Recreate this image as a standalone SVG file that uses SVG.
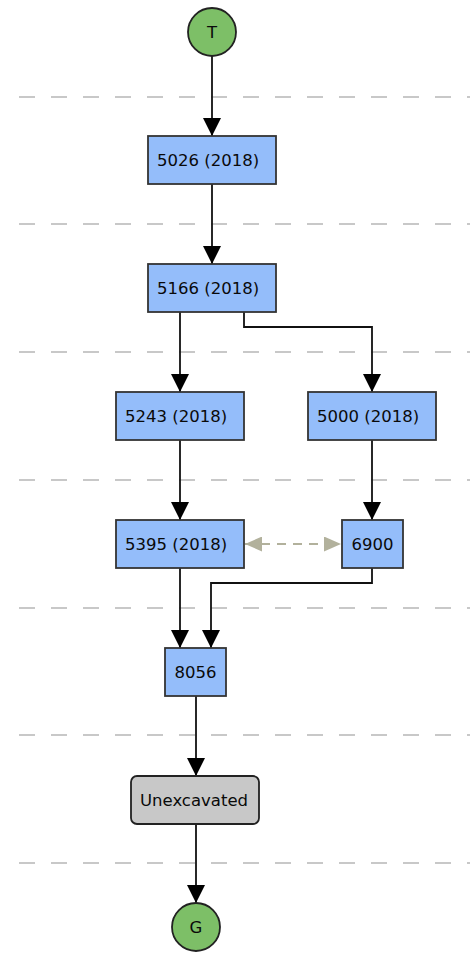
<svg xmlns="http://www.w3.org/2000/svg" width="470" height="969" viewBox="0 0 470 969">
<style>
.sep{stroke:#c8c8c8;stroke-width:2;stroke-dasharray:16,16;fill:none}
.box{fill:#94bdfa;stroke:#333;stroke-width:1.8}
.grey{fill:#c8c8c8;stroke:#222;stroke-width:1.8}
.term{fill:#7dbf67;stroke:#222;stroke-width:1.8}
.lbl{font-family:"DejaVu Sans",Verdana,sans-serif;font-size:16.5px;fill:#0a0a0a}
.edge{stroke:#111;stroke-width:1.8;fill:none;marker-end:url(#ah)}
.rel{stroke:#b2b19c;stroke-width:2;stroke-dasharray:9,7;fill:none;marker-start:url(#gs);marker-end:url(#ge)}
</style>
<defs>
<marker id="ah" markerWidth="18" markerHeight="18" refX="18" refY="9" orient="auto" markerUnits="userSpaceOnUse"><path d="M0,0 L18,9 L0,18 Z" fill="#000"/></marker>
<marker id="ge" markerWidth="18" markerHeight="16" refX="17" refY="7.5" orient="auto" markerUnits="userSpaceOnUse"><path d="M0,0 L17,7.5 L0,15 Z" fill="#b2b19c"/></marker>
<marker id="gs" markerWidth="18" markerHeight="16" refX="0" refY="7.5" orient="auto" markerUnits="userSpaceOnUse"><path d="M17,0 L0,7.5 L17,15 Z" fill="#b2b19c"/></marker>
</defs>
<g id="separators">
<line class="sep" x1="19" y1="97" x2="470" y2="97"/>
<line class="sep" x1="19" y1="224" x2="470" y2="224"/>
<line class="sep" x1="19" y1="352" x2="470" y2="352"/>
<line class="sep" x1="19" y1="480" x2="470" y2="480"/>
<line class="sep" x1="19" y1="608" x2="470" y2="608"/>
<line class="sep" x1="19" y1="735" x2="470" y2="735"/>
<line class="sep" x1="19" y1="863" x2="470" y2="863"/>
</g>
<g id="connectors">
<path class="edge" d="M212,56 V136"/>
<path class="edge" d="M212,184 V264"/>
<path class="edge" d="M180,312 V392"/>
<path class="edge" d="M244,312 V327 H372 V392"/>
<path class="edge" d="M180,440 V520"/>
<path class="edge" d="M372,440 V520"/>
<path class="edge" d="M180,568 V648"/>
<path class="edge" d="M372,568 V583 H211 V648"/>
<path class="edge" d="M196,696 V776"/>
<path class="edge" d="M196,824 V903"/>
<path class="rel" d="M245,544 H341"/>
</g>
<g id="T"><circle class="term" cx="212" cy="32" r="24"/><text class="lbl" x="212" y="38" text-anchor="middle">T</text></g>
<g id="n5026"><rect class="box" x="148" y="136" width="128" height="48"/><text class="lbl" x="157" y="166">5026 (2018)</text></g>
<g id="n5166"><rect class="box" x="148" y="264" width="128" height="48"/><text class="lbl" x="157" y="294">5166 (2018)</text></g>
<g id="n5243"><rect class="box" x="116" y="392" width="128" height="48"/><text class="lbl" x="125" y="422">5243 (2018)</text></g>
<g id="n5000"><rect class="box" x="308" y="392" width="128" height="48"/><text class="lbl" x="317" y="422">5000 (2018)</text></g>
<g id="n5395"><rect class="box" x="116" y="520" width="128" height="48"/><text class="lbl" x="125" y="550">5395 (2018)</text></g>
<g id="n6900"><rect class="box" x="342" y="520" width="61" height="48"/><text class="lbl" x="372.5" y="550" text-anchor="middle">6900</text></g>
<g id="n8056"><rect class="box" x="165" y="648" width="61" height="48"/><text class="lbl" x="195.5" y="678" text-anchor="middle">8056</text></g>
<g id="unexcavated"><rect class="grey" x="131" y="776" width="128" height="48" rx="6"/><text class="lbl" x="194" y="806" text-anchor="middle">Unexcavated</text></g>
<g id="G"><circle class="term" cx="196" cy="927" r="24"/><text class="lbl" x="196" y="933" text-anchor="middle">G</text></g>
</svg>
